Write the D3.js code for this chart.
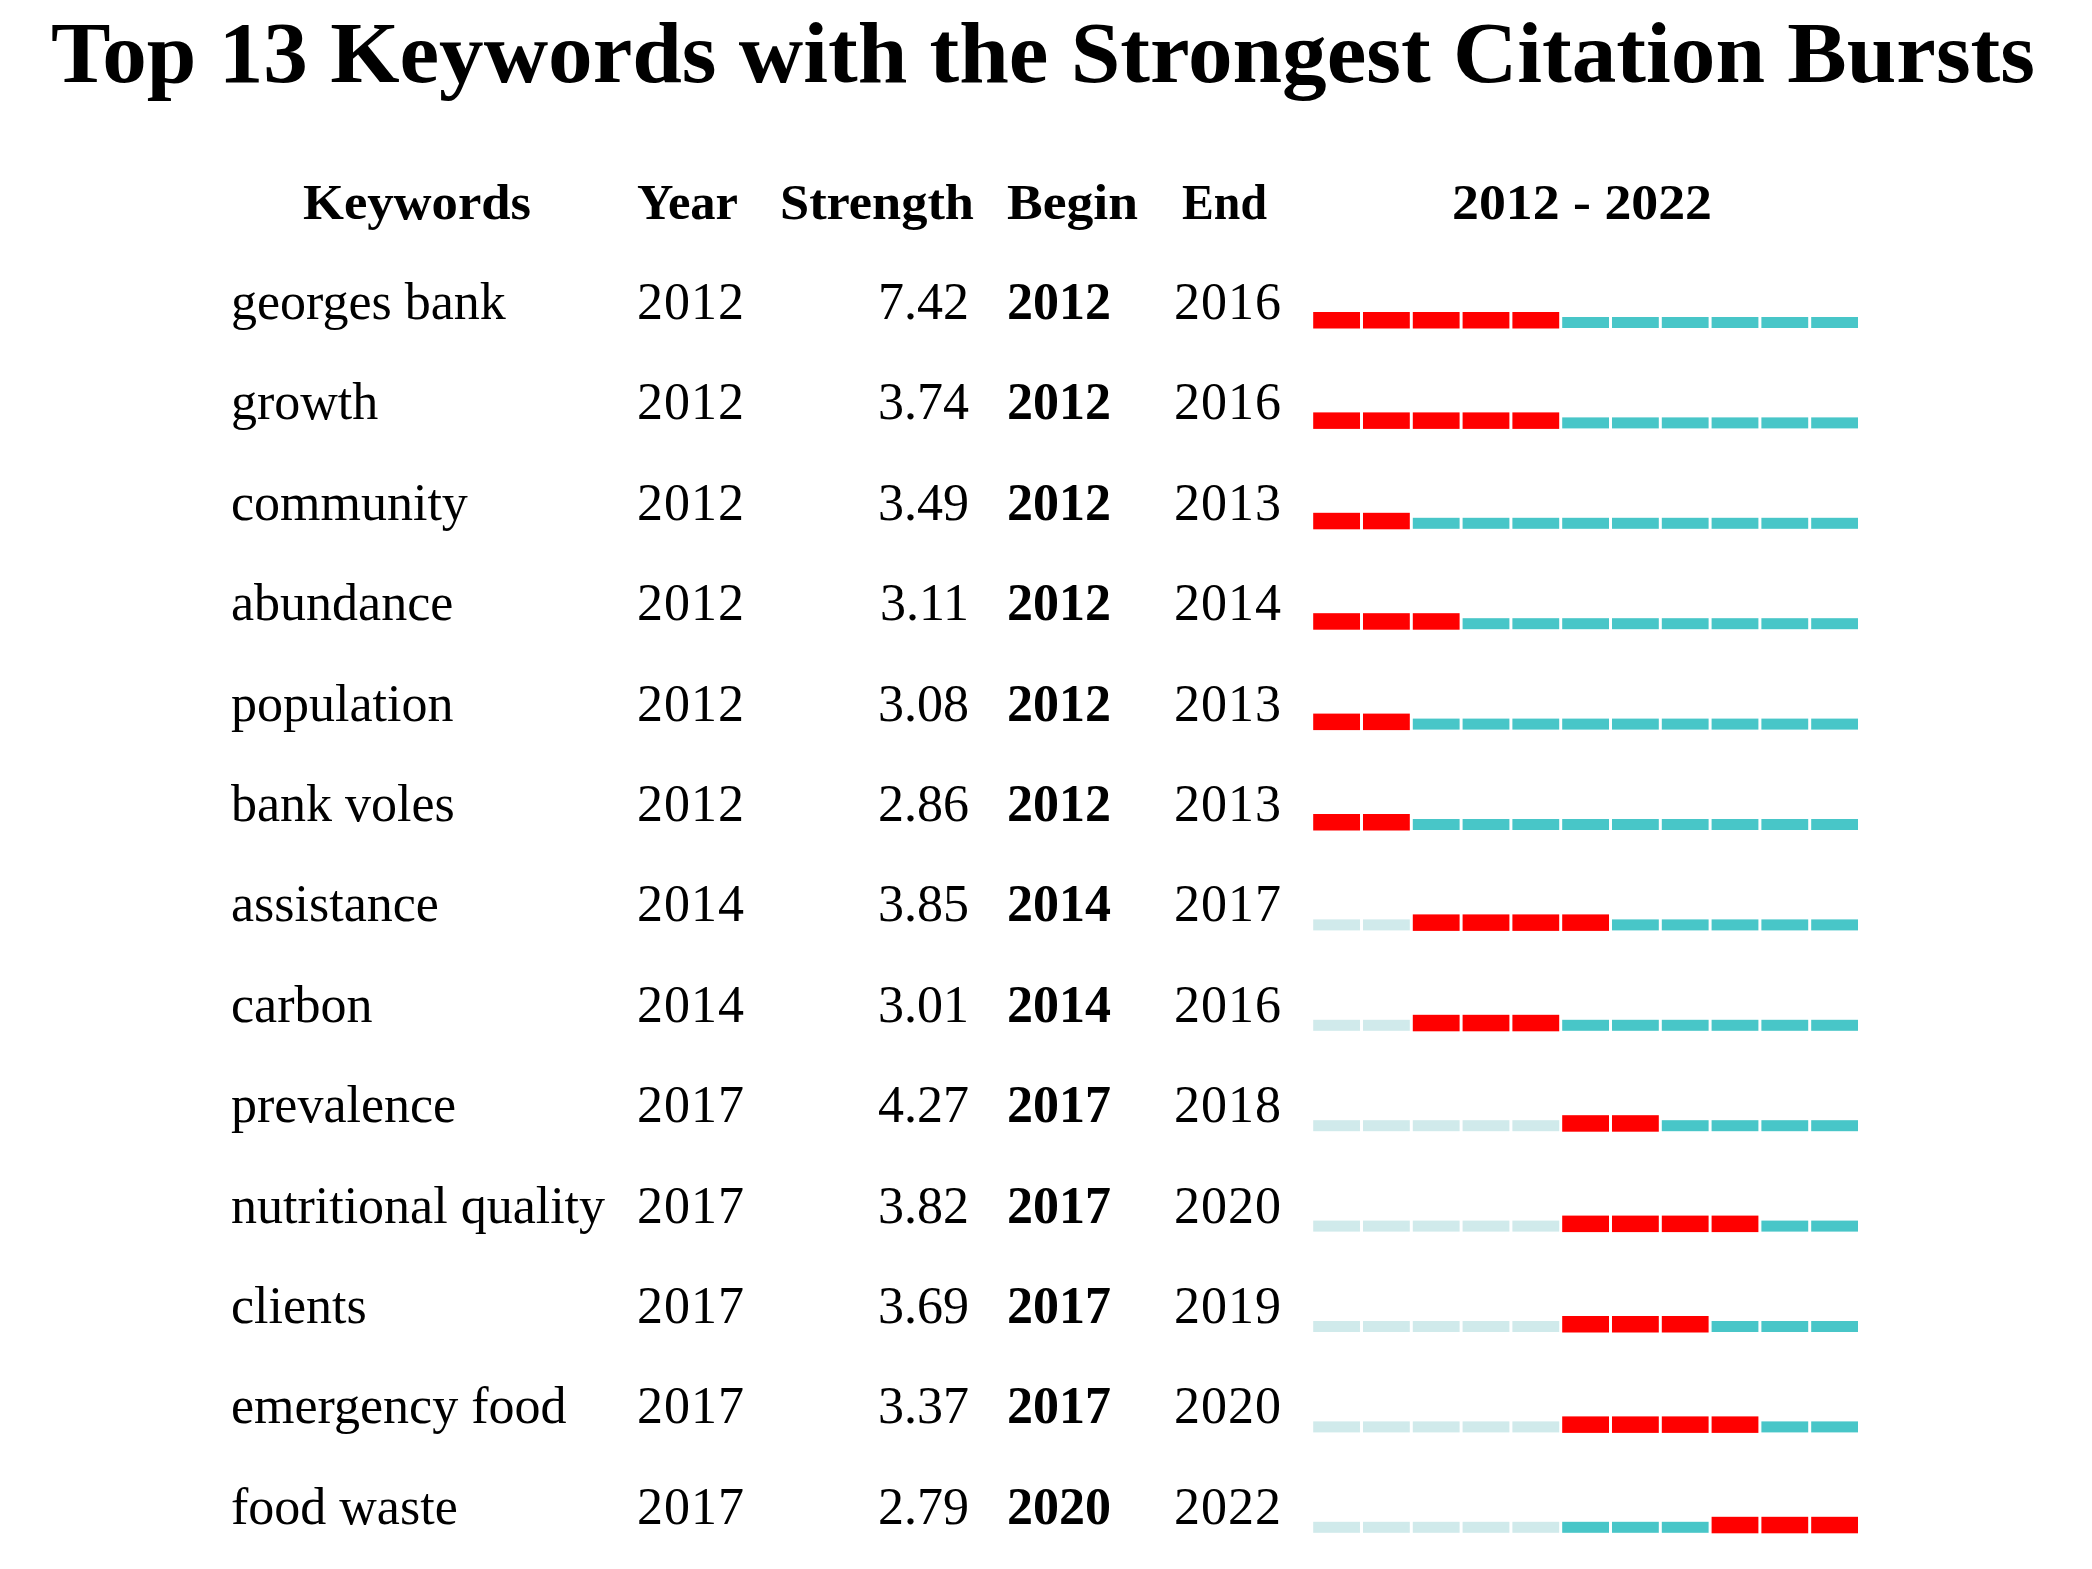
<!DOCTYPE html>
<html><head><meta charset="utf-8">
<script src="https://cdn.jsdelivr.net/npm/d3@7/dist/d3.min.js"></script>
<style>body{margin:0;background:#fff;} svg{display:block;}</style>
</head><body>
<script>
const keywords = ["georges bank","growth","community","abundance","population","bank voles","assistance","carbon","prevalence","nutritional quality","clients","emergency food","food waste"];
const years = [2012,2012,2012,2012,2012,2012,2014,2014,2017,2017,2017,2017,2017];
const strengths = [7.42,3.74,3.49,3.11,3.08,2.86,3.85,3.01,4.27,3.82,3.69,3.37,2.79];
const begins = [2012,2012,2012,2012,2012,2012,2014,2014,2017,2017,2017,2017,2020];
const ends = [2016,2016,2013,2014,2013,2013,2017,2016,2018,2020,2019,2020,2022];
const timeline = d3.range(2012, 2023);
const headers = ["Keywords","Year","Strength","Begin","End","2012 - 2022"];
const title = "Top 13 Keywords with the Strongest Citation Bursts";

const W = 2092, H = 1569;
const svg = d3.select("body").append("svg").attr("width", W).attr("height", H);
const serif = "'Liberation Serif','Times New Roman',serif";

svg.append("text").attr("x", 51).attr("y", 82).attr("font-family", serif)
  .attr("font-size", 86).attr("font-weight", "bold").attr("textLength", 1984)
  .attr("lengthAdjust", "spacingAndGlyphs").text(title);

// header positions: [left, width]
const headerBox = [[303,228],[637,101],[780,194],[1007,131],[1182,85],[1452,260]];
svg.selectAll("text.hdr").data(headers).join("text").attr("class","hdr")
  .attr("x", (d,i)=>headerBox[i][0]).attr("y", 219)
  .attr("font-family", serif).attr("font-size", 50).attr("font-weight","bold")
  .attr("textLength", (d,i)=>headerBox[i][1]).attr("lengthAdjust","spacingAndGlyphs")
  .text(d=>d);

const y = d3.scalePoint().domain(keywords).range([322, 322 + 12*100.4]);
const x = d3.scaleBand().domain(timeline).range([1311.7, 1311.7 + 11*49.8]).paddingInner(0.06).paddingOuter(0.03);

const rows = keywords.map((k,i)=>({k, year: years[i], s: strengths[i], b: begins[i], e: ends[i]}));
const g = svg.append("g").attr("font-family", serif).attr("font-size", 52).attr("fill","#000");
const rg = g.selectAll("g.row").data(rows).join("g").attr("class","row")
  .attr("transform", d=>`translate(0,${y(d.k)})`);
const ty = -3;
rg.append("text").attr("x", 231).attr("y", ty).text(d=>d.k);
rg.append("text").attr("x", 637).attr("y", ty).attr("letter-spacing", 1).text(d=>d.year);
rg.append("text").attr("x", 969).attr("y", ty).attr("text-anchor","end").text(d=>d.s.toFixed(2));
rg.append("text").attr("x", 1007).attr("y", ty).attr("font-weight","bold").text(d=>d.b);
rg.append("text").attr("x", 1174).attr("y", ty).attr("letter-spacing", 1).text(d=>d.e);

rg.selectAll("rect").data(d=>timeline.map(t=>({t, type: t < d.year ? "pre" : (t>=d.b && t<=d.e ? "burst" : "post")})))
  .join("rect")
  .attr("x", c=>x(c.t)).attr("width", x.bandwidth())
  .attr("y", c=>c.type==="burst" ? -10 : -5)
  .attr("height", c=>c.type==="burst" ? 16.5 : 11)
  .attr("fill", c=>c.type==="burst" ? "#ff0000" : (c.type==="pre" ? "#d0eaeb" : "#48c6c8"));
</script>
</body></html>
